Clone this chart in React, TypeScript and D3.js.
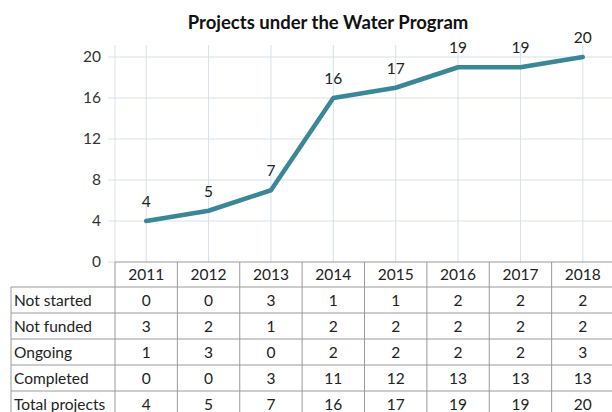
import React from 'react';
import * as d3 from 'd3';

const years = ['2011', '2012', '2013', '2014', '2015', '2016', '2017', '2018'];
const notStarted = [0, 0, 3, 1, 1, 2, 2, 2];
const notFunded = [3, 2, 1, 2, 2, 2, 2, 2];
const ongoing = [1, 3, 0, 2, 2, 2, 2, 3];
const completed = [0, 0, 3, 11, 12, 13, 13, 13];
const totalProjects = [4, 5, 7, 16, 17, 19, 19, 20];
const yTicks = [0, 4, 8, 12, 16, 20];

const tableRows: [string, number[]][] = [
  ['Not started', notStarted],
  ['Not funded', notFunded],
  ['Ongoing', ongoing],
  ['Completed', completed],
  ['Total projects', totalProjects]
];

const W = 612;
const H = 412;
const left = 115;
const right = 614;
const top = 45;
const bottom = 262;
const rowH = 26;
const headH = 25;
const tableLeft = 11;
const font = 'Lato, "Open Sans", sans-serif';
const fs = 15.5;

export default function App() {
  const x = d3.scaleBand<string>().domain(years).range([left, right]);
  const y = d3.scaleLinear().domain([0, 20]).range([bottom, 57]);
  const cx = (yr: string) => (x(yr) as number) + x.bandwidth() / 2;

  const line = d3.line<number>()
    .x((d, i) => cx(years[i]))
    .y(d => y(d));

  const gridColor = '#d5e1ea';
  const border = '#9a9a9a';
  const teal = '#3a8797';

  return (
    <svg width={W} height={H} style={{ position: 'absolute', left: 0, top: 0 }}>
      <rect width={W} height={H} fill="#fff" />
      <text x={W / 2 + 22} y={29} textAnchor="middle" fontFamily={font} fontWeight="bold" fontSize={18.5} fill="#111">
        Projects under the Water Program
      </text>
      {/* horizontal gridlines */}
      {yTicks.map(t => (
        <g key={'yt' + t}>
          {t > 0 && <line x1={left} x2={W} y1={y(t)} y2={y(t)} stroke={gridColor} strokeWidth={1} />}
          <line x1={left - 7} x2={left} y1={y(t)} y2={y(t)} stroke={gridColor} strokeWidth={1} />
          <text x={left - 14} y={y(t)} dy="0.35em" textAnchor="end" fontFamily={font} fontSize={fs} fill="#333">
            {t}
          </text>
        </g>
      ))}
      {/* vertical gridlines */}
      {years.map(yr => (
        <line key={'vg' + yr} x1={cx(yr)} x2={cx(yr)} y1={top} y2={bottom} stroke={gridColor} strokeWidth={1} />
      ))}
      <line x1={left} x2={left} y1={top} y2={bottom} stroke={gridColor} strokeWidth={1} />
      {/* line */}
      <path d={line(totalProjects) || ''} fill="none" stroke={teal} strokeWidth={4.5} strokeLinejoin="round" strokeLinecap="round" />
      {totalProjects.map((v, i) => (
        <text key={'lb' + i} x={cx(years[i])} y={y(v) - 14} textAnchor="middle" fontFamily={font} fontSize={fs} fill="#222">
          {v}
        </text>
      ))}
      {/* data table */}
      <g>
        {years.map(yr => (
          <text key={'hd' + yr} x={cx(yr)} y={bottom + headH / 2} dy="0.36em" textAnchor="middle" fontFamily={font} fontSize={fs} fill="#222">
            {yr}
          </text>
        ))}
        {tableRows.map(([name, vals], r) => {
          const ry = bottom + headH + r * rowH;
          return (
            <g key={'row' + name}>
              <text x={tableLeft + 3} y={ry + rowH / 2} dy="0.36em" fontFamily={font} fontSize={fs} fill="#222">
                {name}
              </text>
              {vals.map((v, i) => (
                <text key={i} x={cx(years[i])} y={ry + rowH / 2} dy="0.36em" textAnchor="middle" fontFamily={font} fontSize={fs} fill="#222">
                  {v}
                </text>
              ))}
            </g>
          );
        })}
        {/* borders */}
        <line x1={left} x2={W} y1={bottom} y2={bottom} stroke={border} />
        {tableRows.map((_, r) => (
          <line key={'hl' + r} x1={tableLeft} x2={W} y1={bottom + headH + r * rowH} y2={bottom + headH + r * rowH} stroke={border} />
        ))}
        <line x1={tableLeft} x2={W} y1={bottom + headH + 5 * rowH} y2={bottom + headH + 5 * rowH} stroke={border} />
        <line x1={tableLeft} x2={tableLeft} y1={bottom + headH} y2={H + 10} stroke={border} />
        <line x1={left} x2={left} y1={bottom} y2={H + 10} stroke={border} />
        {years.map(yr => (
          <line key={'vb' + yr} x1={(x(yr) as number) + x.bandwidth()} x2={(x(yr) as number) + x.bandwidth()} y1={bottom} y2={H + 10} stroke={border} />
        ))}
      </g>
    </svg>
  );
}
